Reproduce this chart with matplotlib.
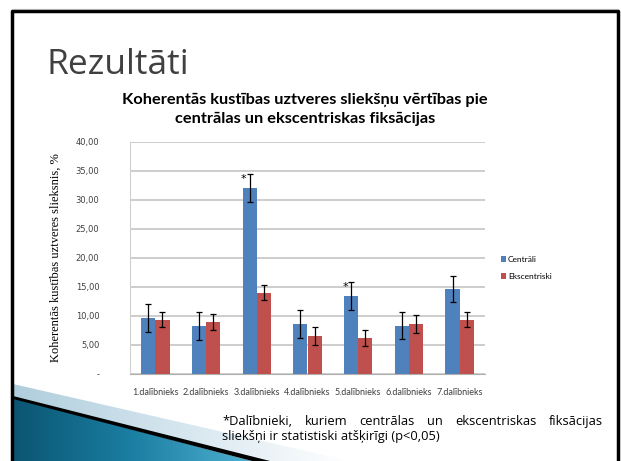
import numpy as np
import matplotlib.pyplot as plt
from matplotlib.colors import LinearSegmentedColormap
from matplotlib.patches import Polygon
from matplotlib.ticker import FuncFormatter

# data
participants = ['1.dalībnieks', '2.dalībnieks', '3.dalībnieks', '4.dalībnieks',
                '5.dalībnieks', '6.dalībnieks', '7.dalībnieks']
central = [9.6, 8.3, 32.0, 8.55, 13.4, 8.3, 14.65]
central_err = [2.4, 2.4, 2.4, 2.45, 2.35, 2.3, 2.3]
eccentric = [9.35, 8.95, 14.0, 6.5, 6.2, 8.55, 9.35]
eccentric_err = [1.3, 1.35, 1.3, 1.6, 1.4, 1.5, 1.3]
significant = [False, False, True, False, True, False, False]

note_1 = '*Dalībnieki, kuriem centrālas un ekscentriskas fiksācijas'
note_2 = 'sliekšņi ir statistiski atšķirīgi (p<0,05)'

blue = '#4F81BD'
red = '#C0504D'

W, H = 621, 461
fig = plt.figure(figsize=(W / 100, H / 100), dpi=100)

# slide background / frame
bg = fig.add_axes([0, 0, 1, 1])
bg.set_xlim(0, W)
bg.set_ylim(H, 0)
bg.axis('off')
bg.plot([12, 12, 618, 618], [H, 11, 11, H], color='black', lw=2.5)
bg.plot([12, 618], [9, 9], color='#aaaaaa', lw=0.8)

# bottom-left decoration
g1 = np.linspace(0, 1, 200).reshape(1, -1)
light = Polygon([(13, 384), (13, 397), (262, 461), (350, 461)], closed=True,
                facecolor='none', edgecolor='none')
bg.add_patch(light)
im1 = bg.imshow(g1, extent=(13, 350, 461, 384), aspect='auto', zorder=1,
                cmap=LinearSegmentedColormap.from_list('l', ['#b0cedd', '#d6e6ef', '#ffffff']))
im1.set_clip_path(light)
teal = Polygon([(13, 398), (13, H), (252, H)], closed=True, facecolor='none', edgecolor='none')
bg.add_patch(teal)
im2 = bg.imshow(g1, extent=(13, 252, 461, 398), aspect='auto', zorder=1,
                cmap=LinearSegmentedColormap.from_list('t', ['#0b5572', '#1b7fa3', '#4fb0d0']))
im2.set_clip_path(teal)
bg.add_patch(Polygon([(13, 396), (13, 399), (252, H), (270, H)], closed=True,
                     facecolor='black', edgecolor='none', zorder=2))

fig.text(47 / W, 1 - 74 / H, 'Rezultāti', fontsize=25.5, color='#404040',
         family='Open Sans', va='baseline')
fig.text(305 / W, 1 - 100 / H, 'Koherentās kustības uztveres sliekšņu vērtības pie',
         ha='center', va='center', fontsize=11.8, fontweight='bold', family='Lato')
fig.text(305 / W, 1 - 119 / H, 'centrālas un ekscentriskas fiksācijas',
         ha='center', va='center', fontsize=11.8, fontweight='bold', family='Lato')

# chart
ax = fig.add_axes([130 / W, (H - 373.7) / H, 355 / W, 231.7 / H])
x = np.arange(len(participants))
bw = 0.28
ax.bar(x - bw / 2, central, bw, color=blue, label='Centrāli', zorder=3)
ax.bar(x + bw / 2, eccentric, bw, color=red, label='Ekscentriski', zorder=3)
ax.errorbar(x - bw / 2, central, yerr=central_err, fmt='none', ecolor='black',
            elinewidth=0.9, capsize=2, capthick=0.9, zorder=4)
ax.errorbar(x + bw / 2, eccentric, yerr=eccentric_err, fmt='none', ecolor='black',
            elinewidth=0.9, capsize=2, capthick=0.9, zorder=4)
for i, s in enumerate(significant):
    if s:
        ax.text(x[i] - bw / 2 - 0.12, central[i] + central_err[i] - 0.8, '*',
                ha='center', va='center', fontsize=8)

ax.set_xlim(-0.5, len(participants) - 0.5)
ax.set_ylim(0, 40)
ax.set_yticks(np.arange(0, 41, 5))
ax.yaxis.set_major_formatter(FuncFormatter(
    lambda v, p: '-' if v == 0 else f'{v:.2f}'.replace('.', ',')))
ax.set_xticks(x)
ax.set_xticklabels(participants, family='Lato', fontsize=6.5)
ax.tick_params(axis='both', length=0, labelcolor='#404040')
ax.tick_params(axis='y', pad=22, labelsize=6)
ax.tick_params(axis='x', pad=10)
ax.grid(axis='y', color='#c0c0c0', lw=1.1, zorder=0)
for side in ['top', 'right']:
    ax.spines[side].set_visible(False)
ax.spines['left'].set_color('#d0d0d0')
ax.spines['bottom'].set_color('#b0b0b0')
ax.set_ylabel('Koherentās kustības uztveres slieksnis, %', family='Liberation Serif',
              fontsize=9, labelpad=10)

leg = ax.legend(loc='center left', bbox_to_anchor=(493 / W, 1 - 268 / H),
                bbox_transform=fig.transFigure, frameon=False,
                handlelength=0.6, handleheight=0.6, handletextpad=0.3, labelspacing=1.2,
                prop={'family': 'Lato', 'size': 6})

# footnote, first line justified between x=222 and x=603
fs = 9.3
fig.canvas.draw()
r = fig.canvas.get_renderer()
words = note_1.split()
arts = [fig.text(0, 1 - 421 / H, w, fontsize=fs, family='Open Sans', va='center')
        for w in words]
widths = [a.get_window_extent(r).width for a in arts]
gap = (603 - 222 - sum(widths)) / (len(words) - 1)
pos = 222
for a, w in zip(arts, widths):
    a.set_x(pos / W)
    pos += w + gap
fig.text(222 / W, 1 - 436 / H, note_2, fontsize=fs, family='Open Sans', va='center')

fig.savefig('out.png', dpi=100)
